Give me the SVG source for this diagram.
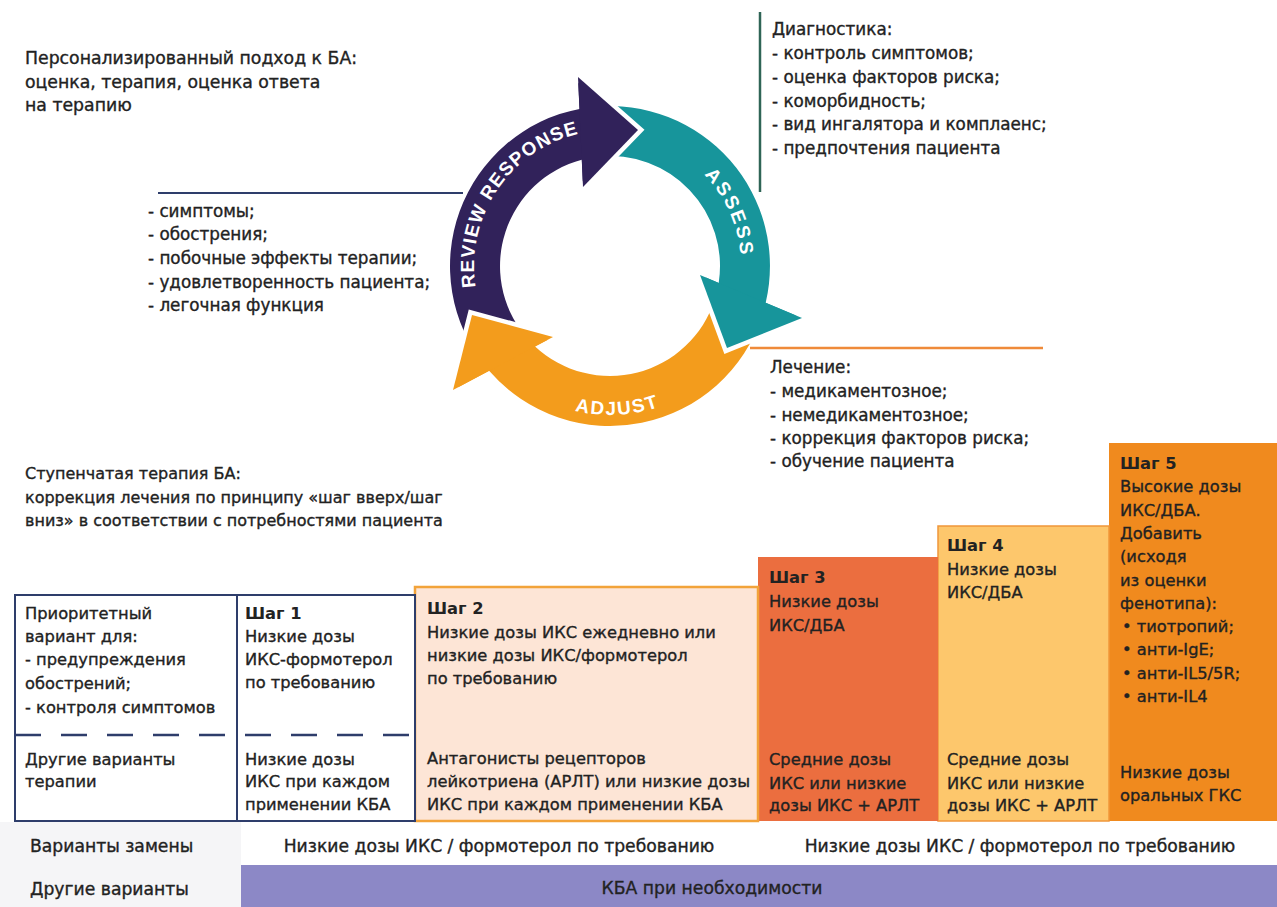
<svg xmlns="http://www.w3.org/2000/svg" width="1277" height="907" viewBox="0 0 1277 907">
<style>
.t{font-family:"DejaVu Sans","Liberation Sans",sans-serif;font-size:16.3px;fill:#222;stroke:#222;stroke-width:0.35px}
.b{font-weight:bold;stroke-width:0}
.i{font-size:17.3px}
.l{font-size:16.8px}
.s{font-size:16px}
.bt{font-size:17.2px}
.cyc{font-family:"Liberation Sans",Arial,sans-serif;font-size:19px;font-weight:bold;fill:#fff}
.gap{fill:none;stroke:#fff;stroke-width:9;stroke-linejoin:miter}
.m{text-anchor:middle}
</style>
<defs>
<path id="pRR" d="M505.8 353.4 A136 136 0 0 1 652 136.7"/>
<path id="pAS" d="M654.8 142.9 A131 131 0 0 1 731.5 315.1"/>
<path id="pAD" d="M485 347.1 A149 149 0 0 0 742.8 333.6"/>
</defs>
<rect width="1277" height="907" fill="#fff"/>
<rect x="0" y="822" width="241" height="85" fill="#f5f5f7"/>

<g id="connectors">
<path d="M158 193 H463" stroke="#2e3d6b" stroke-width="2" fill="none"/>
<path d="M760 12 V192" stroke="#2f6456" stroke-width="2.5" fill="none"/>
<path d="M750 348 H1043" stroke="#ef8a3a" stroke-width="2.5" fill="none"/>
</g>

<g id="intro">
<text class="t i" x="25" y="64">Персонализированный подход к БА:</text>
<text class="t i" x="25" y="88">оценка, терапия, оценка ответа</text>
<text class="t i" x="25" y="111">на терапию</text>
</g>

<g id="review-list">
<text class="t l" x="148" y="217">- симптомы;</text>
<text class="t l" x="148" y="240">- обострения;</text>
<text class="t l" x="148" y="264">- побочные эффекты терапии;</text>
<text class="t l" x="148" y="288">- удовлетворенность пациента;</text>
<text class="t l" x="148" y="311">- легочная функция</text>
</g>

<g id="diag-list">
<text class="t l" x="772" y="35">Диагностика:</text>
<text class="t l" x="772" y="59">- контроль симптомов;</text>
<text class="t l" x="772" y="83">- оценка факторов риска;</text>
<text class="t l" x="772" y="107">- коморбидность;</text>
<text class="t l" x="772" y="130">- вид ингалятора и комплаенс;</text>
<text class="t l" x="772" y="154">- предпочтения пациента</text>
</g>

<g id="treat-list">
<text class="t l" x="770" y="373">Лечение:</text>
<text class="t l" x="770" y="397">- медикаментозное;</text>
<text class="t l" x="770" y="421">- немедикаментозное;</text>
<text class="t l" x="770" y="444">- коррекция факторов риска;</text>
<text class="t l" x="770" y="467">- обучение пациента</text>
</g>

<g id="cycle">
<path id="band-assess" fill="#17959b" d="M593.3 106.9 A160 160 0 0 1 765.7 302.7 L802 318 L727 348 L700 275 L718.7 282.9 A110 110 0 0 0 598.5 156.6 Z"/>
<path id="band-adjust" fill="#f39c1c" d="M762.2 315.4 A160 160 0 0 1 489.1 370.8 L453 390 L472 315 L553 337 L535.05 346.5 A110 110 0 0 0 714.6 300 Z"/>
<path id="band-review" fill="#31225a" d="M485.7 366.7 A160 160 0 0 1 579.5 108.9 L578 77 L638 130 L583 187 L581.8 159.7 A110 110 0 0 0 524.5 335.2 Z"/>
<path class="gap" d="M578 77 L638 130 L583 187"/>
<polygon fill="#31225a" points="578,77 638,130 583,187"/>
<path class="gap" d="M802 318 L727 348 L700 275"/>
<polygon fill="#17959b" points="700,275 802,318 727,348"/>
<path class="gap" d="M453 390 L472 315 L553 337"/>
<polygon fill="#f39c1c" points="553,337 453,390 472,315"/>
<text class="cyc" letter-spacing="1.2"><textPath href="#pRR" startOffset="50%" text-anchor="middle">REVIEW RESPONSE</textPath></text>
<text class="cyc" font-size="18" letter-spacing="2.5"><textPath href="#pAS" startOffset="50%" text-anchor="middle">ASSESS</textPath></text>
<text class="cyc" letter-spacing="1.8"><textPath href="#pAD" startOffset="50%" text-anchor="middle">ADJUST</textPath></text>
</g>

<g id="stepwise-title">
<text class="t s" x="25" y="479">Ступенчатая терапия БА:</text>
<text class="t s" x="25" y="503">коррекция лечения по принципу «шаг вверх/шаг</text>
<text class="t s" x="25" y="526">вниз» в соответствии с потребностями пациента</text>
</g>

<g id="step5">
<rect x="1109" y="443" width="168" height="378" fill="#f08a1e"/>
<text class="t b" x="1120" y="469">Шаг 5</text>
<text class="t" x="1120" y="492">Высокие дозы</text>
<text class="t" x="1120" y="516">ИКС/ДБА.</text>
<text class="t" x="1120" y="539">Добавить</text>
<text class="t" x="1120" y="562">(исходя</text>
<text class="t" x="1120" y="586">из оценки</text>
<text class="t" x="1120" y="609">фенотипа):</text>
<text class="t" x="1122" y="632">• тиотропий;</text>
<text class="t" x="1122" y="655">• анти-IgE;</text>
<text class="t" x="1122" y="679">• анти-IL5/5R;</text>
<text class="t" x="1122" y="702">• анти-IL4</text>
<text class="t" x="1120" y="778">Низкие дозы</text>
<text class="t" x="1120" y="801">оральных ГКС</text>
</g>

<g id="step4">
<rect x="938" y="526" width="171" height="295" fill="#fdc76c" stroke="#f0973a" stroke-width="1.5"/>
<text class="t b" x="947" y="551">Шаг 4</text>
<text class="t" x="947" y="575">Низкие дозы</text>
<text class="t" x="947" y="598">ИКС/ДБА</text>
<text class="t" x="947" y="765">Средние дозы</text>
<text class="t" x="947" y="789">ИКС или низкие</text>
<text class="t" x="947" y="811">дозы ИКС + АРЛТ</text>
</g>

<g id="step3">
<rect x="758" y="557" width="180" height="264" fill="#eb6e3f"/>
<text class="t b" x="769" y="583">Шаг 3</text>
<text class="t" x="769" y="607">Низкие дозы</text>
<text class="t" x="769" y="631">ИКС/ДБА</text>
<text class="t" x="769" y="765">Средние дозы</text>
<text class="t" x="769" y="789">ИКС или низкие</text>
<text class="t" x="769" y="811">дозы ИКС + АРЛТ</text>
</g>

<g id="step2">
<rect x="415" y="587" width="343" height="234" fill="#fde5d6" stroke="#f2a33a" stroke-width="2.5"/>
<text class="t b" x="427" y="614">Шаг 2</text>
<text class="t" x="427" y="638">Низкие дозы ИКС ежедневно или</text>
<text class="t" x="427" y="661">низкие дозы ИКС/формотерол</text>
<text class="t" x="427" y="684">по требованию</text>
<text class="t" x="427" y="764">Антагонисты рецепторов</text>
<text class="t" x="427" y="787">лейкотриена (АРЛТ) или низкие дозы</text>
<text class="t" x="427" y="810">ИКС при каждом применении КБА</text>
</g>

<g id="step1">
<rect x="237" y="595" width="178" height="226" fill="#fff" stroke="#2e3d6b" stroke-width="2"/>
<text class="t b" x="245" y="619">Шаг 1</text>
<text class="t" x="245" y="642">Низкие дозы</text>
<text class="t" x="245" y="665">ИКС-формотерол</text>
<text class="t" x="245" y="688">по требованию</text>
<text class="t" x="245" y="765">Низкие дозы</text>
<text class="t" x="245" y="787">ИКС при каждом</text>
<text class="t" x="245" y="810">применении КБА</text>
</g>

<g id="options">
<rect x="15" y="595" width="222" height="226" fill="#fff" stroke="#2e3d6b" stroke-width="2"/>
<text class="t" x="25" y="619">Приоритетный</text>
<text class="t" x="25" y="642">вариант для:</text>
<text class="t" x="25" y="665">- предупреждения</text>
<text class="t" x="25" y="689">обострений;</text>
<text class="t" x="25" y="713">- контроля симптомов</text>
<text class="t" x="25" y="765">Другие варианты</text>
<text class="t" x="25" y="787">терапии</text>
</g>

<g id="divider">
<path d="M15 735 H413" stroke="#2e3d6b" stroke-width="2.5" stroke-dasharray="26 20" fill="none"/>
</g>

<g id="bottom-rows">
<text class="t bt" x="30" y="852">Варианты замены</text>
<text class="t bt m" x="499" y="852">Низкие дозы ИКС / формотерол по требованию</text>
<text class="t bt m" x="1020" y="852">Низкие дозы ИКС / формотерол по требованию</text>
<text class="t bt" x="30" y="895">Другие варианты</text>
<rect x="241" y="865" width="1036" height="42" fill="#8c88c6"/>
<text class="t bt m" x="712" y="894">КБА при необходимости</text>
</g>
</svg>
